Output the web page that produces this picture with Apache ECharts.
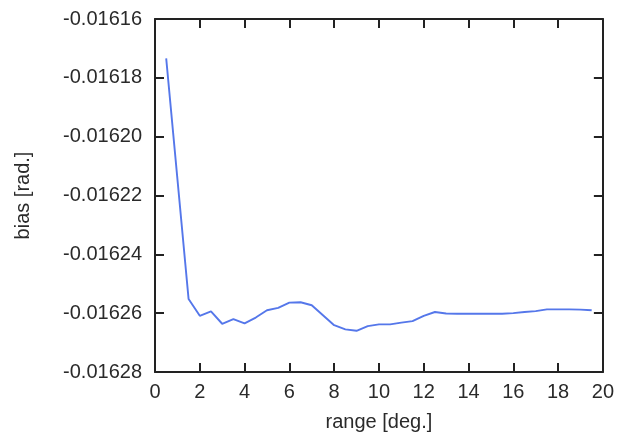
<!DOCTYPE html>
<html>
<head>
<meta charset="utf-8">
<script src="https://cdn.jsdelivr.net/npm/echarts@6/dist/echarts.min.js"></script>
<style>
  html, body { margin: 0; padding: 0; background: #fff; }
  #chart { width: 617px; height: 437px; }
</style>
</head>
<body>
<div id="chart"></div>
<script>
// range [deg.] and bias [rad.]
var range = [0.5, 1.5, 2.0, 2.5, 3.0, 3.5, 4.0, 4.5, 5.0, 5.5, 6.0, 6.5, 7.0, 7.5, 8.0, 8.5, 9.0, 9.5,
  10.0, 10.5, 11.0, 11.5, 12.0, 12.5, 13.0, 13.5, 14.0, 14.5, 15.0, 15.5, 16.0, 16.5, 17.0, 17.5,
  18.0, 18.5, 19.0, 19.5];
var bias = [-0.0161734, -0.0162552, -0.0162609, -0.0162594, -0.0162636, -0.016262, -0.0162635,
  -0.0162615, -0.016259, -0.0162582, -0.0162564, -0.0162563, -0.0162573, -0.0162607, -0.0162641,
  -0.0162655, -0.016266, -0.0162644, -0.0162638, -0.0162638, -0.0162632, -0.0162627, -0.0162609,
  -0.0162596, -0.0162601, -0.0162602, -0.0162602, -0.0162602, -0.0162602, -0.0162602, -0.01626,
  -0.0162596, -0.0162593, -0.0162587, -0.0162587, -0.0162587, -0.0162588, -0.016259];

var points = range.map(function (r, i) { return [r, bias[i]]; });

var font = 'Liberation Sans, Arial, sans-serif';
var frame = { show: true, onZero: false, lineStyle: { color: '#222', width: 2 } };
var ticks = { show: true, inside: true, length: 9, lineStyle: { color: '#222', width: 2 } };

var chart = echarts.init(document.getElementById('chart'), null, { renderer: 'canvas' });
chart.setOption({
  animation: false,
  grid: { left: 155, top: 19, right: 14, bottom: 65 },
  xAxis: [
    {
      type: 'value', min: 0, max: 20, interval: 2, position: 'bottom',
      name: 'range [deg.]', nameLocation: 'middle', nameGap: 40,
      nameTextStyle: { fontFamily: font, fontSize: 20, color: '#2a2a2a' },
      axisLine: frame, axisTick: ticks, splitLine: { show: false },
      axisLabel: { margin: 10, fontFamily: font, fontSize: 20, color: '#2a2a2a' }
    },
    {
      type: 'value', min: 0, max: 20, interval: 2, position: 'top',
      axisLine: frame, axisTick: ticks, splitLine: { show: false },
      axisLabel: { show: false }
    }
  ],
  yAxis: [
    {
      type: 'value', min: -0.01628, max: -0.01616, interval: 0.00002, position: 'left',
      name: 'bias [rad.]', nameLocation: 'middle', nameGap: 122,
      nameTextStyle: { fontFamily: font, fontSize: 20, color: '#2a2a2a' },
      axisLine: frame, axisTick: ticks, splitLine: { show: false },
      axisLabel: {
        margin: 13, fontFamily: font, fontSize: 20, color: '#2a2a2a',
        formatter: function (v) { return v.toFixed(5); }
      }
    },
    {
      type: 'value', min: -0.01628, max: -0.01616, interval: 0.00002, position: 'right',
      axisLine: frame, axisTick: ticks, splitLine: { show: false },
      axisLabel: { show: false }
    }
  ],
  series: [
    {
      type: 'line',
      data: points,
      showSymbol: false,
      lineStyle: { color: '#5577ea', width: 1.9 }
    }
  ]
});
</script>
</body>
</html>
